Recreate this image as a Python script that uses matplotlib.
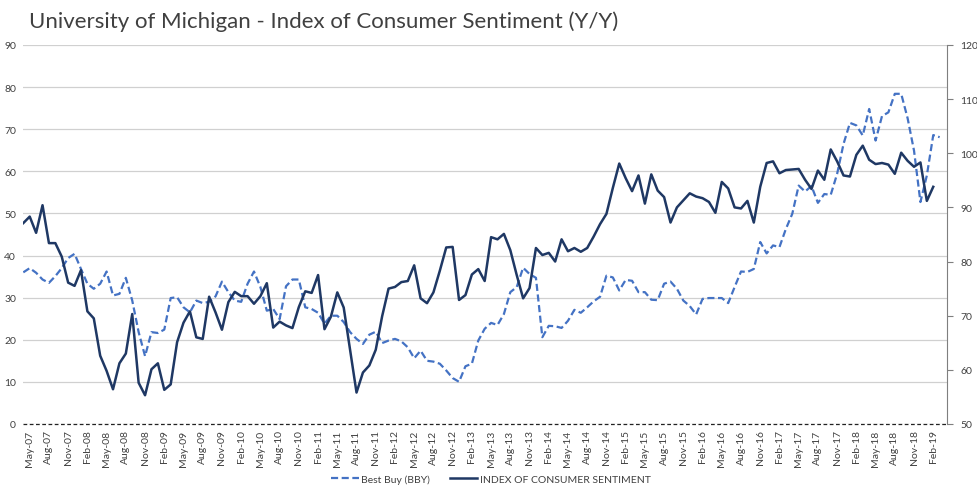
import numpy as np
import pandas as pd
from matplotlib import pyplot as plt

# months, Apr-07 onwards
months = pd.date_range('2007-04-01', periods=144, freq='MS')

# Best Buy (BBY), left axis, Apr-07 .. Mar-19
bby = [36.0, 37.0, 35.9, 34.3, 33.5, 35.1, 37.0, 39.4, 40.4, 36.8,
       33.3, 32.1, 33.3, 36.2, 30.5, 30.9, 34.7, 29.3, 21.8, 16.1,
       21.8, 21.6, 22.4, 29.9, 30.1, 27.7, 26.5, 29.3, 28.7, 29.0,
       30.3, 33.8, 31.3, 29.3, 29.0, 33.3, 36.2,
       32.5, 26.9, 27.3, 24.9, 32.7, 34.3, 34.3, 27.7, 27.3, 26.4,
       23.8, 25.7, 25.7, 24.2, 21.8, 20.2, 19.0, 21.2, 21.9, 19.2,
       19.8, 20.2, 19.6, 18.2, 15.6, 17.4, 15.0, 14.8, 14.3, 12.7,
       10.9, 10.0, 13.7, 14.3, 19.8, 22.6,
       24.0, 23.5, 26.1, 31.3, 32.5, 37.1, 35.6, 34.7, 20.6, 23.3,
       23.2, 22.8, 24.5, 27.1, 26.4, 27.7, 29.1, 30.2, 35.2, 34.8,
       31.7, 34.2, 34.0, 31.3, 31.3, 29.5, 29.4, 33.3, 33.8, 32.1,
       29.3, 28.0, 26.0, 29.7, 29.9,
       29.9, 29.9, 28.7, 32.5, 36.2, 36.1, 36.8, 43.2, 40.5, 42.4,
       42.0, 46.3, 49.9, 56.6, 55.2, 56.5, 52.5, 54.6, 54.4, 59.4,
       66.5, 71.5, 70.9, 68.5, 74.8, 67.3, 73.1, 74.0, 78.4, 78.4,
       72.6, 64.9, 52.7, 59.0, 68.6, 68.1]

# Index of consumer sentiment, right axis, Apr-07 .. Feb-19
ics = [87.1, 88.3, 85.3, 90.4, 83.4, 83.4, 80.9, 76.1, 75.5,
       78.4, 70.8, 69.5, 62.6, 59.8, 56.4, 61.2, 63.0, 70.3, 57.6, 55.3, 60.1,
       61.2, 56.3, 57.3, 65.1, 68.7, 70.8, 66.0, 65.7, 73.5, 70.6, 67.4, 72.5,
       74.4, 73.6, 73.6, 72.2, 73.6, 76.0, 67.8, 68.9, 68.2, 67.7, 71.6, 74.5,
       74.2, 77.5, 67.5, 69.8, 74.3, 71.5, 63.7, 55.8, 59.5, 60.8, 63.7, 69.9,
       75.0, 75.3, 76.2, 76.4, 79.3, 73.2, 72.3, 74.3, 78.3, 82.6, 82.7, 72.9,
       73.8, 77.6, 78.6, 76.4, 84.5, 84.1, 85.1, 82.1, 77.5, 73.2, 75.1, 82.5,
       81.2, 81.6, 80.0, 84.1, 81.9, 82.5, 81.8, 82.5, 84.6, 86.9, 88.8, 93.6,
       98.1, 95.4, 93.0, 95.9, 90.7, 96.1, 93.1, 91.9, 87.2, 90.0, 91.3, 92.6,
       92.0, 91.7, 91.0, 89.0, 94.7, 93.5, 90.0, 89.8, 91.2, 87.2, 93.8, 98.2,
       98.5, 96.3, 96.9, 97.0, 97.1, 95.1, 93.4, 96.8, 95.1, 100.7, 98.5, 95.9,
       95.7, 99.7, 101.4, 98.8, 98.0, 98.2, 97.9, 96.2, 100.1, 98.6, 97.5, 98.3,
       91.2, 93.8]

plt.rcParams['font.family'] = ['Lato', 'DejaVu Sans']
txt = '#404040'

fig = plt.figure(figsize=(9.78, 4.89), dpi=100)
ax = fig.add_axes([0.0235, 0.131, 0.9445, 0.775])
ax2 = ax.twinx()

x_bby = np.arange(len(bby))
x_ics = np.arange(len(ics))
l1, = ax.plot(x_bby, bby, color='#4472c4', lw=1.6, ls=(0, (3.2, 1.6)),
              label='Best Buy (BBY)')
l2, = ax2.plot(x_ics, ics, color='#1f3864', lw=1.8,
               label='INDEX OF CONSUMER SENTIMENT')

ax.set_xlim(-0.05, 144.1)
ax.set_ylim(0, 90)
ax.set_yticks(range(0, 91, 10))
ax2.set_ylim(50, 120)
ax2.set_yticks(range(50, 121, 10))

tick_pos = np.arange(1, len(months), 3)
ax.set_xticks(tick_pos)
ax.set_xticklabels([months[i].strftime('%b-%y') for i in tick_pos],
                   rotation=90, fontsize=7.5, color=txt)
ax.tick_params(axis='x', length=0, pad=4)
ax.tick_params(axis='y', length=0, labelsize=7.5, labelcolor=txt, pad=5)
ax2.tick_params(axis='y', length=4, color='#7f7f7f', labelsize=7.5,
                labelcolor=txt, pad=6)

ax.grid(axis='y', color='#d0d0d0', lw=0.9)
ax.set_axisbelow(True)
for a in (ax, ax2):
    for side in ('top', 'left', 'right', 'bottom'):
        a.spines[side].set_visible(False)
ax2.spines['right'].set_visible(True)
ax2.spines['right'].set_color('#7f7f7f')
ax.axhline(0, color='#222222', lw=0.9, ls=(0, (3, 2)), clip_on=False)

fig.text(0.03, 0.955, 'University of Michigan - Index of Consumer Sentiment (Y/Y)',
         fontsize=16, color=txt, va='center', ha='left')

fig.legend(handles=[l1, l2], loc='center', bbox_to_anchor=(0.502, 0.018),
           ncol=2, frameon=False, fontsize=7.5, labelcolor=txt,
           handlelength=2.6, columnspacing=2.0, handletextpad=0.2)

fig.savefig('out.png', dpi=100)
